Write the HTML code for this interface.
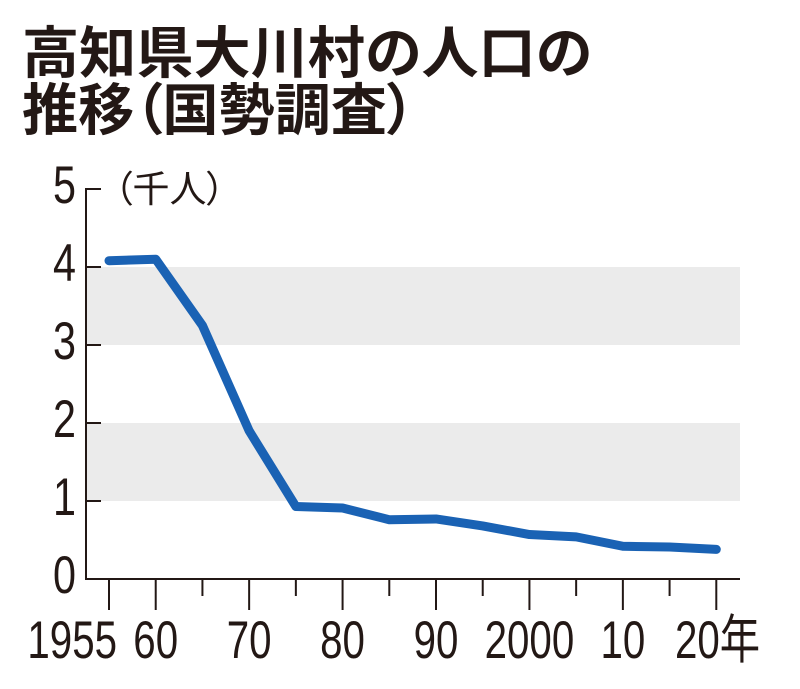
<!DOCTYPE html>
<html><head><meta charset="utf-8">
<style>
html,body{margin:0;padding:0;background:#fff;}
body{width:800px;height:684px;overflow:hidden;}
svg text{font-family:"Liberation Sans","Noto Sans CJK JP",sans-serif;fill:#231815;}
.jp{font-family:"Noto Sans CJK JP",sans-serif !important;font-feature-settings:"palt";}
</style></head>
<body>
<svg id="chart" width="800" height="684" viewBox="0 0 800 684" xmlns="http://www.w3.org/2000/svg">
<text class="jp" x="22" y="73" font-size="56" font-weight="bold" textLength="570" lengthAdjust="spacingAndGlyphs">高知県大川村の人口の</text>
<text class="jp" x="22" y="130" font-size="56" font-weight="bold" textLength="393" lengthAdjust="spacingAndGlyphs">推移（国勢調査）</text>
<g id="bands"></g>
<g id="axes"></g>
<g id="series"></g>
</svg>
<script>
const years=[1955,1960,1965,1970,1975,1980,1985,1990,1995,2000,2005,2010,2015,2020];
const population=[4.08,4.10,3.25,1.90,0.93,0.91,0.76,0.77,0.68,0.57,0.54,0.42,0.41,0.38];
const yTicks=[0,1,2,3,4,5];
const xTickYears=[1955,1960,1965,1970,1975,1980,1985,1990,1995,2000,2005,2010,2015,2020];
const xLabelYears=[1955,1960,1970,1980,1990,2000,2010,2020];
const xLabels=["1955","60","70","80","90","2000","10","20年"];
const shadedBands=[[1,2],[3,4]];

const NS="http://www.w3.org/2000/svg";
const X=y=>109+(y-1955)*9.343;
const Y=v=>579-v*78;
function mk(tag,attrs,parent){const e=document.createElementNS(NS,tag);for(const k in attrs)e.setAttribute(k,attrs[k]);parent.appendChild(e);return e;}
const bands=document.getElementById('bands'),axes=document.getElementById('axes'),series=document.getElementById('series');

shadedBands.forEach(b=>{
  const r=mk('rect',{x:86,y:Y(b[1]),width:654,height:Y(b[0])-Y(b[1]),fill:'#ebebeb'},bands);
  
  
});
const ya=mk('line',{x1:86,y1:Y(5)-1,x2:86,y2:580,stroke:'#231815','stroke-width':2},axes);


const xa=mk('line',{x1:85,y1:579,x2:740,y2:579,stroke:'#231815','stroke-width':2},axes);


yTicks.forEach(v=>{
  const t=mk('line',{x1:86,y1:Y(v),x2:101,y2:Y(v),stroke:'#231815','stroke-width':2},axes);
  
  
  const l=mk('text',{x:76,y:Y(v)+14,'font-size':53,'text-anchor':'end',transform:`translate(76 0) scale(0.78 1) translate(-76 0)`},axes);
  l.textContent=v;
  
  
});
const unit=mk('text',{x:114,y:202,'font-size':37,class:'jp'},axes);
unit.textContent='（千人）';


xTickYears.forEach(yr=>{
  const major=xLabelYears.includes(yr);
  const t=mk('line',{x1:X(yr),y1:580,x2:X(yr),y2:major?610:596,stroke:'#231815','stroke-width':2},axes);
  
  
});
xLabelYears.forEach((yr,i)=>{
  let x=X(yr);
  let anchor='middle';
  if(i==0){anchor='end';x=x+8;}
  if(i==7){anchor='start';x=675;}
  const l=mk('text',{x:x,y:658,'font-size':53,'text-anchor':anchor,transform:`translate(${x} 0) scale(0.76 1) translate(${-x} 0)`},axes);
  l.textContent=xLabels[i];
  
  
});
const pts=years.map((y,i)=>X(y)+','+Y(population[i])).join(' ');
const pl=mk('polyline',{points:pts,fill:'none',stroke:'#1a62b4','stroke-width':9,'stroke-linejoin':'round','stroke-linecap':'round'},series);


</script>
</body></html>
